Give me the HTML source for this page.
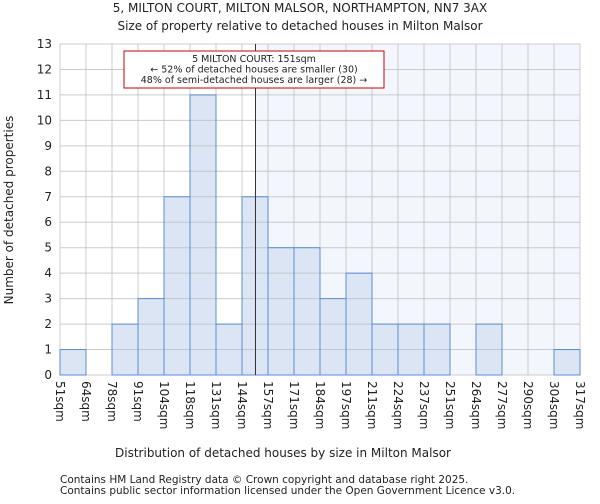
<!DOCTYPE html>
<html><head><meta charset="utf-8"><style>
body{margin:0;background:#fff;font-family:"DejaVu Sans","Liberation Sans",sans-serif;}
svg text{font-family:"DejaVu Sans","Liberation Sans",sans-serif;fill:#222;}
</style></head><body>
<svg id="chart" width="600" height="500">
<text x="300" y="12" text-anchor="middle" font-size="12">5, MILTON COURT, MILTON MALSOR, NORTHAMPTON, NN7 3AX</text>
<text x="300" y="30" text-anchor="middle" font-size="12">Size of property relative to detached houses in Milton Malsor</text>
<g id="plot"></g>
<text x="283" y="457" text-anchor="middle" font-size="12">Distribution of detached houses by size in Milton Malsor</text>
<text transform="translate(13,210) rotate(-90)" text-anchor="middle" font-size="12">Number of detached properties</text>
<text x="60" y="483" font-size="10.5" fill="#444">Contains HM Land Registry data © Crown copyright and database right 2025.</text>
<text x="60" y="494" font-size="10.5" fill="#444">Contains public sector information licensed under the Open Government Licence v3.0.</text>
</svg>
<script>
const categories=["51sqm","64sqm","78sqm","91sqm","104sqm","118sqm","131sqm","144sqm","157sqm","171sqm","184sqm","197sqm","211sqm","224sqm","237sqm","251sqm","264sqm","277sqm","290sqm","304sqm","317sqm"];
const counts=[1,0,2,3,7,11,2,7,5,5,3,4,2,2,2,0,2,0,0,1];
const yTicks=[0,1,2,3,4,5,6,7,8,9,10,11,12,13];
const binStart=51, binWidth=13.3, subjectSize=151;
const annotation=["5 MILTON COURT: 151sqm","← 52% of detached houses are smaller (30)","48% of semi-detached houses are larger (28) →"];
const NS="http://www.w3.org/2000/svg";
const L=60,R=580,T=44,B=375,yMax=13;
const nb=counts.length;
const xb=i=>L+i*(R-L)/nb;
const xv=v=>L+(v-binStart)/(binWidth*nb)*(R-L);
const y=v=>B-v*(B-T)/yMax;
const g=document.getElementById('plot');
function mk(t,a){const e=document.createElementNS(NS,t);for(const k in a)e.setAttribute(k,a[k]);g.appendChild(e);return e;}
const sx=xv(subjectSize);
let e=mk('rect',{x:L,y:T,width:R-L,height:B-T,fill:'#fff'});


e=mk('rect',{x:sx,y:T,width:R-sx,height:B-T,fill:'#f3f6fd'});


counts.forEach((c,i)=>{
 if(c<=0)return;
 e=mk('rect',{x:xb(i),y:y(c),width:xb(i+1)-xb(i),height:B-y(c),fill:'#dbe5f4'});
 
 
});
yTicks.forEach(t=>{
 e=mk('line',{x1:L,x2:R,y1:y(t),y2:y(t),stroke:'#bbb',"stroke-opacity":0.75,"stroke-width":1});
 
 
 e=mk('text',{x:L-8,y:y(t)+4,"text-anchor":"end","font-size":12});e.textContent=t;
 
 
});
categories.forEach((c,i)=>{
 const x=xb(i);
 e=mk('line',{x1:x,x2:x,y1:T,y2:B,stroke:'#bbb',"stroke-opacity":0.75,"stroke-width":1});
 
 
 e=mk('text',{transform:`translate(${x-4},${B+6}) rotate(90)`,"font-size":12});e.textContent=c;
 
 
});
e=mk('rect',{x:L,y:T,width:R-L,height:B-T,fill:'none',stroke:'#ccc'});


counts.forEach((c,i)=>{
 if(c<=0)return;
 e=mk('rect',{x:xb(i),y:y(c),width:xb(i+1)-xb(i),height:B-y(c),fill:'none',stroke:'#5b8dd6',"stroke-width":1});
 
 
});
e=mk('line',{x1:sx,x2:sx,y1:T,y2:B,stroke:'#333',"stroke-width":1});


e=mk('rect',{x:124,y:51,width:260,height:37,fill:'#fff',stroke:'#c00',"stroke-width":1});


annotation.forEach((s,i)=>{
 e=mk('text',{x:254,y:62+i*10.5,"text-anchor":"middle","font-size":9.5});e.textContent=s;
 
 
});
</script>
</body></html>
